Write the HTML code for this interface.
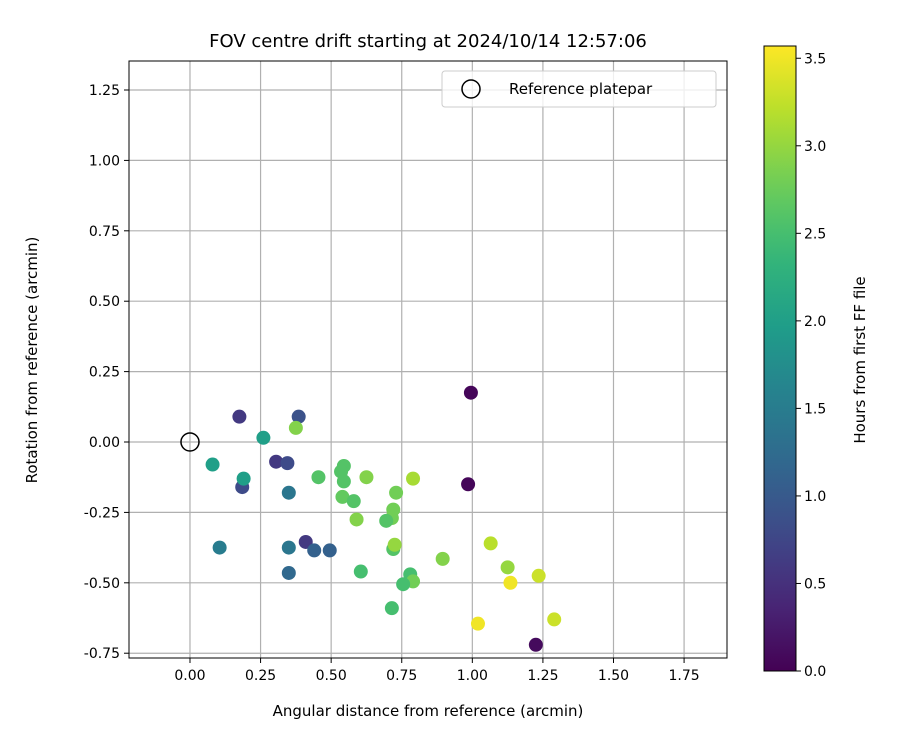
<!DOCTYPE html>
<html><head><meta charset="utf-8">
<style>
body{margin:0;background:#fff;}
svg{display:block;font-family:"DejaVu Sans","Liberation Sans",sans-serif;}
</style></head>
<body>
<svg id="chart" width="900" height="750"></svg>
<script>
const xs = [0.995,0.985,1.225,0.175,0.385,0.375,0.08,0.26,0.305,0.345,0.185,0.19,0.35,0.455,0.545,0.535,0.545,0.625,0.79,0.54,0.58,0.59,0.73,0.72,0.715,0.695,0.72,0.725,0.105,0.35,0.41,0.44,0.495,0.35,0.605,0.895,0.78,0.79,0.755,0.715,1.065,1.125,1.235,1.135,1.02,1.29];
const ys = [0.175,-0.15,-0.72,0.09,0.09,0.05,-0.08,0.015,-0.07,-0.075,-0.16,-0.13,-0.18,-0.125,-0.085,-0.105,-0.14,-0.125,-0.13,-0.195,-0.21,-0.275,-0.18,-0.24,-0.27,-0.28,-0.38,-0.365,-0.375,-0.375,-0.355,-0.385,-0.385,-0.465,-0.46,-0.415,-0.47,-0.495,-0.505,-0.59,-0.36,-0.445,-0.475,-0.5,-0.645,-0.63];
const hours = [0.05,0.05,0.1,0.6,0.9,2.9,2.0,2.0,0.6,0.8,0.8,2.0,1.4,2.6,2.6,2.6,2.6,2.9,3.1,2.7,2.6,2.9,2.8,2.8,2.8,2.6,2.6,3.0,1.5,1.4,0.6,1.1,1.1,1.2,2.5,2.9,2.5,2.8,2.5,2.5,3.2,3.0,3.3,3.5,3.5,3.3];
const xTicks = [0,0.25,0.5,0.75,1,1.25,1.5,1.75];
const yTicks = [-0.75,-0.5,-0.25,0,0.25,0.5,0.75,1,1.25];
const cTicks = [0,0.5,1,1.5,2,2.5,3,3.5];

const NS="http://www.w3.org/2000/svg";
const svg=document.getElementById('chart');
const L=129,R=727,T=61,B=658;
const xMin=-0.216,xMax=1.902,yMin=-0.767,yMax=1.353;
const cMin=0,cMax=3.57,cbX=764,cbW=32,cbT=46,cbB=671;
function X(v){return L+(v-xMin)/(xMax-xMin)*(R-L);}
function Y(v){return B-(v-yMin)/(yMax-yMin)*(B-T);}
function CY(v){return cbB-(v-cMin)/(cMax-cMin)*(cbB-cbT);}
const vir=[[68,1,84],[72,40,120],[62,74,137],[49,104,142],[38,130,142],[31,158,137],[53,183,121],[109,205,89],[180,222,44],[253,231,37]];
function viridis(t){t=Math.max(0,Math.min(1,t))*(vir.length-1);const i=Math.min(Math.floor(t),vir.length-2),f=t-i;const c=vir[i].map((a,k)=>Math.round(a+(vir[i+1][k]-a)*f));return `rgb(${c[0]},${c[1]},${c[2]})`;}
function el(tag,attrs,parent){const e=document.createElementNS(NS,tag);for(const k in attrs)e.setAttribute(k,attrs[k]);(parent||svg).appendChild(e);return e;}

xTicks.forEach(v=>{
  const g=el('line',{x1:X(v),x2:X(v),y1:T,y2:B,stroke:'#b0b0b0','stroke-width':1.2});
  
  
  el('line',{x1:X(v),x2:X(v),y1:B,y2:B+5,stroke:'#000'});
  const t=el('text',{x:X(v),y:B+22,'text-anchor':'middle','font-size':14});
  t.textContent=v.toFixed(2);
  
  
});
yTicks.forEach(v=>{
  const g=el('line',{x1:L,x2:R,y1:Y(v),y2:Y(v),stroke:'#b0b0b0','stroke-width':1.2});
  
  
  el('line',{x1:L-5,x2:L,y1:Y(v),y2:Y(v),stroke:'#000'});
  const t=el('text',{x:L-9,y:Y(v)+5,'text-anchor':'end','font-size':14});
  t.textContent=v.toFixed(2);
  
  
});
xs.forEach((x,i)=>{
  const c=el('circle',{cx:X(x),cy:Y(ys[i]),r:7,fill:viridis((hours[i]-cMin)/(cMax-cMin))});
  
  
});
const ref=el('circle',{cx:X(0),cy:Y(0),r:9,fill:'none',stroke:'#000','stroke-width':1.5});


const fr=el('rect',{x:L,y:T,width:R-L,height:B-T,fill:'none',stroke:'#000','stroke-width':1});


const defs=el('defs',{});
const lg=el('linearGradient',{id:'vg',x1:0,y1:1,x2:0,y2:0},defs);
for(let i=0;i<=20;i++){el('stop',{offset:i/20,'stop-color':viridis(i/20)},lg);}
const cb=el('rect',{x:cbX,y:cbT,width:cbW,height:cbB-cbT,fill:'url(#vg)',stroke:'#000','stroke-width':1});


cTicks.forEach(v=>{
  el('line',{x1:cbX+cbW,x2:cbX+cbW+5,y1:CY(v),y2:CY(v),stroke:'#000'});
  const t=el('text',{x:cbX+cbW+8,y:CY(v)+5,'font-size':14});
  t.textContent=v.toFixed(1);
  
  
});
</script>
<svg width="900" height="750" style="position:absolute;left:0;top:0;font-family:'DejaVu Sans','Liberation Sans',sans-serif;">
  <text x="428" y="47" text-anchor="middle" font-size="18">FOV centre drift starting at 2024/10/14 12:57:06</text>
  <text x="428" y="716" text-anchor="middle" font-size="15">Angular distance from reference (arcmin)</text>
  <text transform="translate(37,360) rotate(-90)" text-anchor="middle" font-size="15">Rotation from reference (arcmin)</text>
  <text transform="translate(865,360) rotate(-90)" text-anchor="middle" font-size="15">Hours from first FF file</text>
  <g>
    <rect x="442" y="71" width="274" height="36" rx="3" fill="#fff" fill-opacity="0.8" stroke="#ccc"/>
    <circle cx="471" cy="89" r="9" fill="none" stroke="#000" stroke-width="1.5"/>
    <text x="509" y="94" font-size="15">Reference platepar</text>
  </g>
</svg>
</body></html>
